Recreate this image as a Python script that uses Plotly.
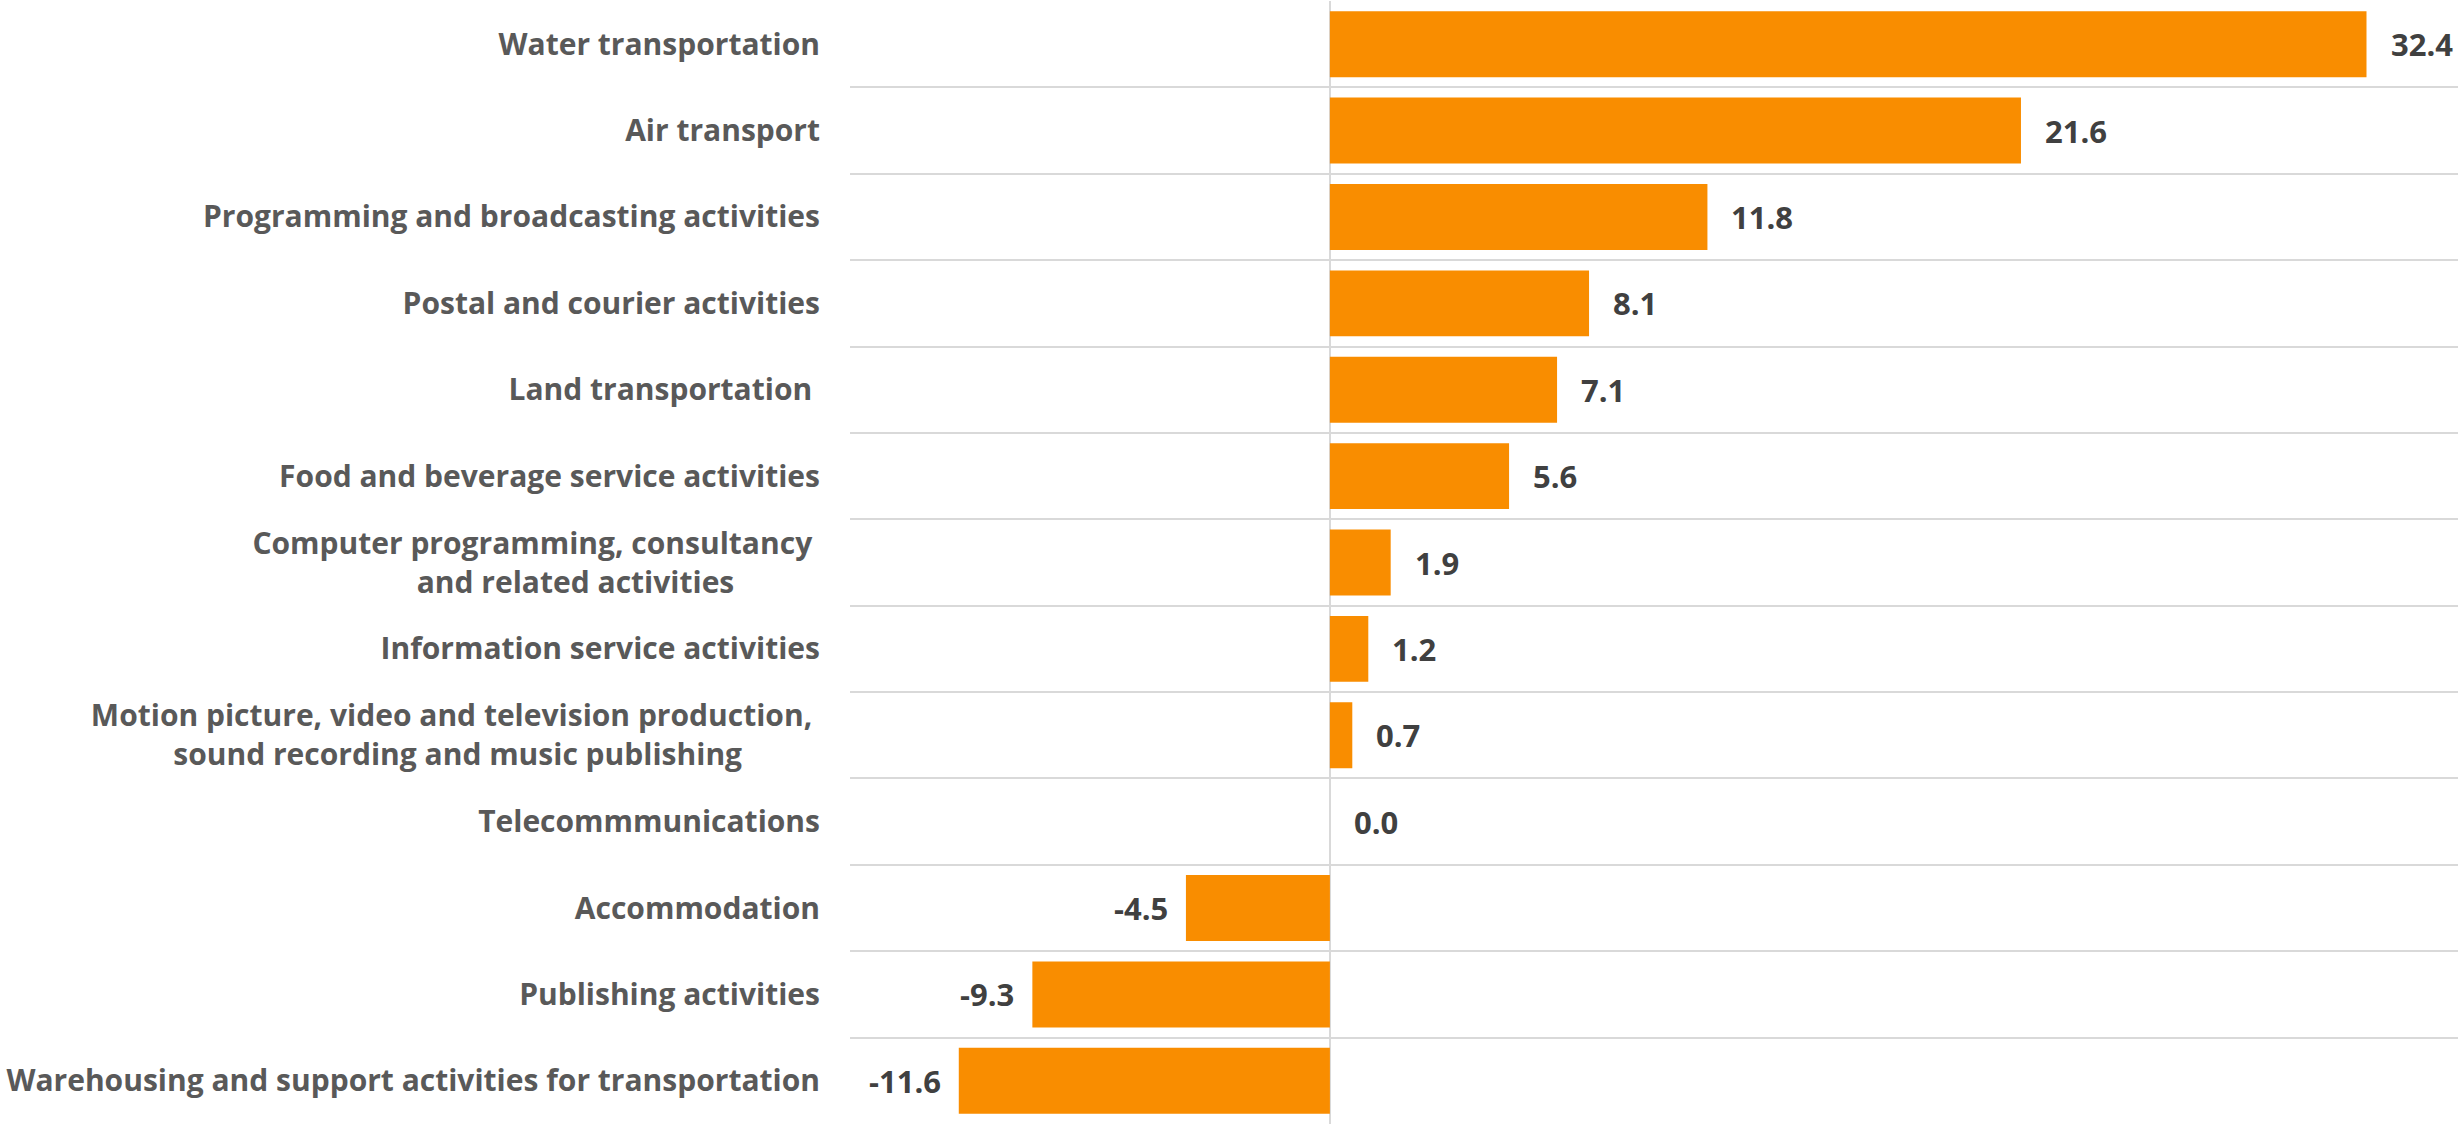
import plotly.graph_objects as go

# Sectors, listed top to bottom, and their percentage change
sectors = [
    "Water transportation",
    "Air transport",
    "Programming and broadcasting activities",
    "Postal and courier activities",
    "Land transportation\u00a0",
    "Food and beverage service activities",
    "Computer programming, consultancy\u00a0<br>and related activities" + "\u00a0" * 11,
    "Information service activities",
    "Motion picture, video and television production,\u00a0<br>sound recording and music publishing" + "\u00a0" * 10,
    "Telecommmunications",
    "Accommodation",
    "Publishing activities",
    "Warehousing and support activities for transportation",
]
values = [32.4, 21.6, 11.8, 8.1, 7.1, 5.6, 1.9, 1.2, 0.7, 0.0, -4.5, -9.3, -11.6]

BAR_COLOR = "#F98D00"
GRID_COLOR = "#D9D9D9"
LABEL_FONT = "Open Sans"

fig = go.Figure(
    go.Bar(
        x=values,
        y=sectors,
        orientation="h",
        marker=dict(color=BAR_COLOR, line=dict(width=0)),
        hoverinfo="x+y",
    )
)

# Value labels sit just outside the end of each bar
for sector, val in zip(sectors, values):
    fig.add_annotation(
        x=val,
        y=sector,
        xref="x",
        yref="y",
        text=f"{val:.1f}",
        showarrow=False,
        xanchor="left" if val >= 0 else "right",
        xshift=22 if val >= 0 else -16,
        font=dict(family=LABEL_FONT, size=31, color="#404040", weight="bold"),
    )

fig.update_layout(
    width=2458,
    height=1124,
    margin=dict(l=850, r=0, t=1, b=0),
    paper_bgcolor="white",
    plot_bgcolor="white",
    bargap=0.237,
    showlegend=False,
)

fig.update_xaxes(
    range=[-15, 35.26],
    showgrid=False,
    showticklabels=False,
    ticks="",
    zeroline=True,
    zerolinecolor=GRID_COLOR,
    zerolinewidth=2,
    showline=False,
)

fig.update_yaxes(
    type="category",
    autorange="reversed",
    tickson="boundaries",
    showgrid=True,
    gridcolor=GRID_COLOR,
    gridwidth=2,
    ticks="",
    ticklabelstandoff=29,
    tickfont=dict(family=LABEL_FONT, size=30, color="#595959", weight="bold"),
    showline=False,
    zeroline=False,
)

fig.write_html("out.html")
